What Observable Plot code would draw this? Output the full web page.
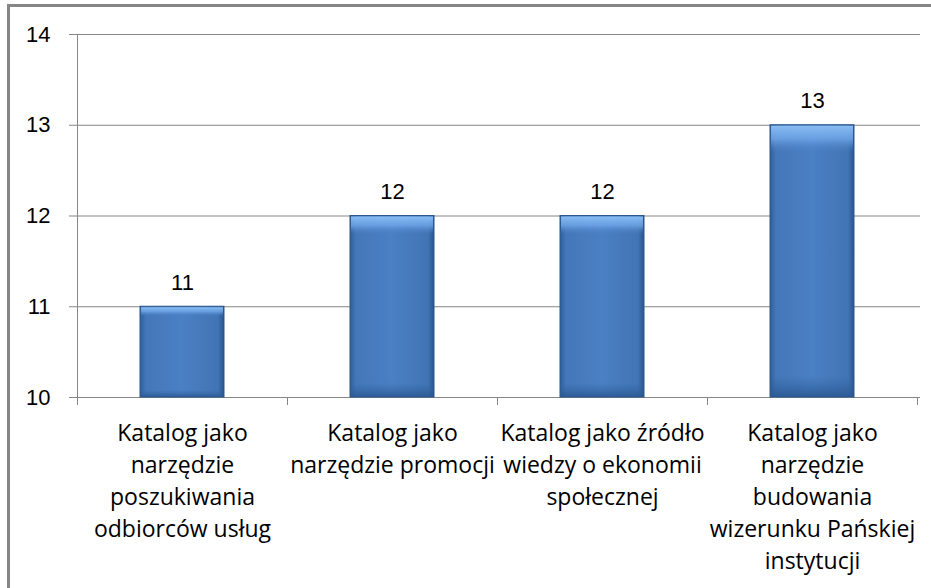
<!DOCTYPE html>
<html>
<head>
<meta charset="utf-8">
<script src="https://cdn.jsdelivr.net/npm/d3@7"></script>
<script src="https://cdn.jsdelivr.net/npm/@observablehq/plot@0.6"></script>
<style>
  html, body { margin: 0; padding: 0; background: #fff; }
  #wrap { position: relative; width: 931px; height: 588px; overflow: hidden; background: #fff; }
  #frame { position: absolute; left: 7px; top: 4px; width: 1000px; height: 700px;
           border-left: 3px solid #868686; border-top: 3px solid #868686; box-sizing: border-box; }
  #chart { position: absolute; left: 0; top: 0; }
</style>
</head>
<body>
<div id="wrap"><div id="frame"></div><div id="chart"></div></div>
<script>
const categories = [
  ["Katalog jako", "narzędzie", "poszukiwania", "odbiorców usług"],
  ["Katalog jako", "narzędzie promocji"],
  ["Katalog jako źródło", "wiedzy o ekonomii", "społecznej"],
  ["Katalog jako", "narzędzie", "budowania", "wizerunku Pańskiej", "instytucji"]
];
const values = [11, 12, 12, 13];
const yTicks = [10, 11, 12, 13, 14];

const rows = categories.map((lines, i) => ({i, label: lines.join("\n"), value: values[i]}));
const bounds = d3.range(categories.length + 1);
const yMin = yTicks[0];

const plot = Plot.plot({
  width: 931,
  height: 588,
  marginLeft: 77,
  marginRight: 14,
  marginTop: 34,
  marginBottom: 191,
  style: {background: "transparent", overflow: "visible"},
  x: {domain: [0, categories.length], axis: null},
  y: {domain: [yTicks[0], yTicks[yTicks.length - 1]], axis: null},
  marks: [
    Plot.ruleY(yTicks, {stroke: "#868686", strokeOpacity: 1, insetLeft: -8, insetRight: -3}),
    Plot.ruleX([0], {y1: yTicks[0], y2: yTicks[yTicks.length - 1], stroke: "#868686"}),
    Plot.axisX({ticks: bounds, tickSize: 8, tickFormat: () => "", stroke: "#868686", strokeOpacity: 1, label: null}),
    Plot.axisY({ticks: yTicks, tickSize: 0, tickPadding: 27, fontSize: 22, label: null,
                fontFamily: "Liberation Sans", fill: "#000", tickFormat: d => String(d)}),
    Plot.rect(rows, {x1: d => d.i + 0.3, x2: d => d.i + 0.7, y1: yMin, y2: "value",
                     fill: "url(#barH)", stroke: "#2b568c", strokeWidth: 1}),
    Plot.rect(rows, {x1: d => d.i + 0.3, x2: d => d.i + 0.7, y1: yMin, y2: "value",
                     fill: "url(#barV)", insetLeft: 1, insetRight: 1, insetTop: 1}),
    Plot.text(rows, {x: d => d.i + 0.5, y: "value", text: d => String(d.value), dy: -24,
                     fontSize: 22, fontFamily: "Liberation Sans", fill: "#000"}),
    Plot.text(rows, {x: d => d.i + 0.5, y: yMin, text: "label", lineAnchor: "top", dy: 21,
                     lineHeight: 1.39, fontSize: 23, fontFamily: "Open Sans", fill: "#000"})
  ]
});

const defs = `
<defs>
  <linearGradient id="barH" x1="0" x2="1" y1="0" y2="0">
    <stop offset="0" stop-color="#2f5e9a"/>
    <stop offset="0.07" stop-color="#4477b9"/>
    <stop offset="0.5" stop-color="#4a80c4"/>
    <stop offset="0.93" stop-color="#4174b4"/>
    <stop offset="1" stop-color="#28548c"/>
  </linearGradient>
  <linearGradient id="barV" x1="0" x2="0" y1="0" y2="1">
    <stop offset="0" stop-color="#8cc0f6" stop-opacity="0.95"/>
    <stop offset="0.05" stop-color="#6fa6e8" stop-opacity="0.8"/>
    <stop offset="0.1" stop-color="#4a80c4" stop-opacity="0"/>
    <stop offset="0.92" stop-color="#3466a6" stop-opacity="0"/>
    <stop offset="1" stop-color="#2a5790" stop-opacity="0.9"/>
  </linearGradient>
</defs>`;
plot.insertAdjacentHTML("afterbegin", defs);
document.getElementById("chart").appendChild(plot);
</script>
</body>
</html>
